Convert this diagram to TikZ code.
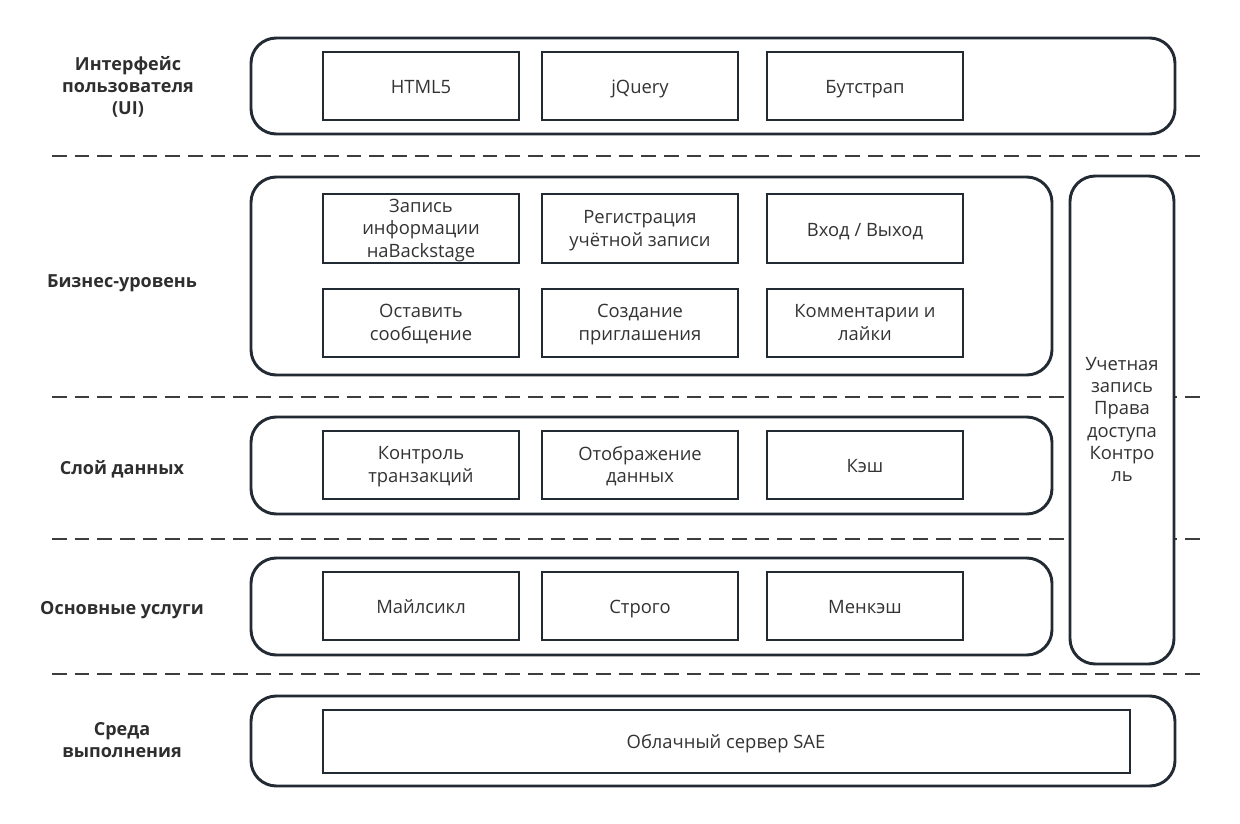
\documentclass[tikz,border=0pt]{standalone}
\usepackage{fontspec}
\setmainfont{Open Sans}
\begin{document}
\begin{tikzpicture}[x=0.75pt,y=-0.75pt,
  tx/.style={font=\fontsize{13.8}{16.7}\selectfont, text=black!80, align=center, inner sep=0pt,
    yshift=-2pt, execute at begin node=\strut, execute at end node=\strut},
  outer/.style={draw=boxc, line width=2.2pt, rounded corners=19pt, fill=white},
  inner/.style={draw=boxc, line width=2.2pt, fill=white},
  sep/.style={draw=sepc, line width=2.2pt, dash pattern=on 11pt off 6pt},
  lbl/.style={tx, font=\fontsize{13.5}{16.7}\selectfont\bfseries, text=black!82}
]
\definecolor{boxc}{HTML}{222B33}
\definecolor{sepc}{HTML}{3D3D3D}
\useasboundingbox (0,0) rectangle (1240,824);

% separators
\coordinate (s1a) at (52,156); \coordinate (s1b) at (1202,156);
\coordinate (s2a) at (52,397); \coordinate (s2b) at (1202,397);
\coordinate (s3a) at (52,539); \coordinate (s3b) at (1202,539);
\coordinate (s4a) at (52,674); \coordinate (s4b) at (1202,674);
\draw[sep] (s1a) -- (s1b);
\draw[sep] (s2a) -- (s2b);
\draw[sep] (s3a) -- (s3b);
\draw[sep] (s4a) -- (s4b);

% outer containers
\draw[outer] (251,38) rectangle (1175,134);
\draw[outer] (251,177) rectangle (1052,375);
\draw[outer] (251,417) rectangle (1052,514);
\draw[outer] (251,558) rectangle (1052,655);
\draw[outer] (251,696) rectangle (1175,786);
\draw[outer] (1070,176) rectangle (1174,664);
\node[tx] (acc) at (1122,420) {Учетная\\запись\\Права\\доступа\\Контро\\ль};

% UI row
\draw[inner] (323,52) rectangle (519,120); \node[tx] (html) at (421,86) {HTML5};
\draw[inner] (542,52) rectangle (738,120); \node[tx] (jq) at (640,86) {jQuery};
\draw[inner] (767,52) rectangle (963,120); \node[tx] (bs) at (865,86) {Бутстрап};

% Business rows
\draw[inner] (323,194) rectangle (519,263); \node[tx] (b1) at (421,229) {Запись\\информации\\наBackstage};
\draw[inner] (542,194) rectangle (738,263); \node[tx] (b2) at (640,229) {Регистрация\\учётной записи};
\draw[inner] (767,194) rectangle (963,263); \node[tx] (b3) at (865,229) {Вход / Выход};
\draw[inner] (323,289) rectangle (519,357); \node[tx] (b4) at (421,323) {Оставить\\сообщение};
\draw[inner] (542,289) rectangle (738,357); \node[tx] (b5) at (640,323) {Создание\\приглашения};
\draw[inner] (767,289) rectangle (963,357); \node[tx] (b6) at (865,323) {Комментарии и\\лайки};

% Data
\draw[inner] (323,431) rectangle (519,499); \node[tx] (d1) at (421,465) {Контроль\\транзакций};
\draw[inner] (542,431) rectangle (738,499); \node[tx] (d2) at (640,465) {Отображение\\данных};
\draw[inner] (767,431) rectangle (963,499); \node[tx] (d3) at (865,465) {Кэш};

% Core
\draw[inner] (323,572) rectangle (519,640); \node[tx] (c1) at (421,606) {Майлсикл};
\draw[inner] (542,572) rectangle (738,640); \node[tx] (c2) at (640,606) {Строго};
\draw[inner] (767,572) rectangle (963,640); \node[tx] (c3) at (865,606) {Менкэш};

% Runtime
\draw[inner] (323,710) rectangle (1130,773); \node[tx] (r1) at (726,741) {Облачный сервер SAE};

% Left labels
\node[lbl] (l1) at (128,86) {Интерфейс\\пользователя\\(UI)};
\node[lbl] (l2) at (122,280) {Бизнес-уровень};
\node[lbl] (l3) at (122,467) {Слой данных};
\node[lbl] (l4) at (122,607) {Основные услуги};
\node[lbl] (l5) at (122,741) {Среда\\выполнения};
\end{tikzpicture}
\end{document}
